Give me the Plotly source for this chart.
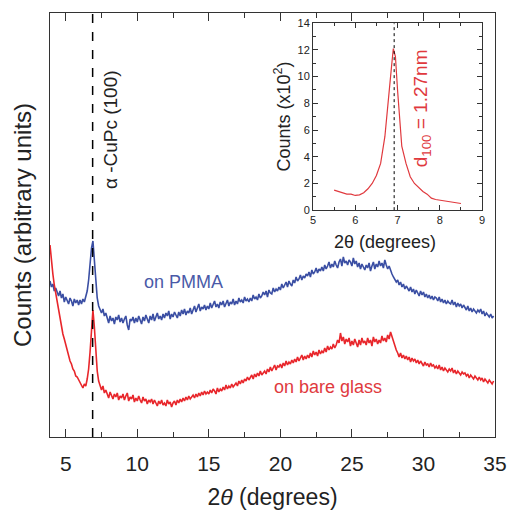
import plotly.graph_objects as go

# ---- data, 2theta grid from 3.9 in steps of 0.1 ----
x_start = 3.9
x_step = 0.1
blue_pmma = [
    156,150,153,146,149,144,141,146,139,143,
    135,140,137,133,139,136,131,138,134,137,
    132,137,133,138,135,140,146,157,173,189,
    196,176,150,139,131,127,124,128,121,124,
    119,114,121,116,119,113,120,117,122,115,
    119,114,118,121,112,107,118,116,120,114,
    119,115,121,117,113,120,116,122,118,114,
    121,117,123,116,120,124,118,121,117,123,
    119,124,121,126,118,123,120,125,122,119,
    125,121,127,123,128,122,126,124,129,123,
    127,131,125,129,133,126,130,128,132,127,
    131,128,134,129,132,136,130,133,129,135,
    132,136,130,134,137,131,135,133,138,132,
    136,133,139,135,137,134,140,136,138,135,
    139,136,142,138,140,137,143,139,141,145,
    142,146,140,147,144,143,149,145,148,146,
    150,147,153,149,152,155,150,156,153,151,
    157,154,160,156,158,162,157,161,159,163,
    161,165,160,167,163,165,169,164,168,166,
    170,166,172,168,171,175,169,173,170,176,
    172,169,175,178,171,180,174,176,172,177,
    175,171,179,173,176,170,174,168,173,170,
    167,172,169,174,166,171,175,168,173,170,
    176,171,174,169,177,172,168,171,166,163,
    160,158,155,157,152,155,150,153,148,151,
    149,146,150,145,148,143,147,144,141,146,
    142,145,140,143,139,142,138,141,137,140,
    139,136,140,135,138,134,137,133,136,134,
    133,137,132,135,130,134,131,133,129,132,
    130,127,131,126,129,125,128,126,124,127,
    125,128,123,126,121,124,122,120,123,119,
    121]
red_glass = [
    192,175,163,152,144,133,126,118,112,103,
    98,92,88,81,76,73,68,66,61,60,
    57,54,52,49,53,51,58,68,85,108,
    127,110,85,66,56,50,47,51,44,47,
    43,39,45,41,38,43,40,44,37,41,
    39,43,37,41,44,36,40,38,42,35,
    39,36,41,37,34,40,36,38,33,37,
    35,38,33,37,34,31,36,33,37,32,
    34,31,37,33,35,30,34,36,32,37,
    34,38,35,39,36,40,37,41,38,40,
    42,39,43,40,44,41,45,42,46,43,
    45,43,47,44,48,46,43,49,45,48,
    46,50,47,52,48,51,49,53,50,52,
    54,51,56,53,57,54,58,56,60,57,
    59,62,58,63,60,64,61,66,62,64,
    66,63,68,65,70,66,69,72,67,71,
    70,73,69,74,71,76,72,75,73,77,
    74,78,75,80,76,79,82,77,81,78,
    82,79,84,80,86,82,85,81,87,83,
    86,84,89,85,91,87,90,88,93,89,
    92,97,94,104,96,100,93,98,95,99,
    91,96,92,98,93,90,97,92,99,94,
    96,92,99,94,97,91,100,95,98,93,
    97,94,101,96,99,95,102,98,105,100,
    96,92,87,84,80,84,79,82,78,81,
    77,80,75,79,76,78,74,77,73,76,
    74,71,75,72,73,70,74,71,72,69,
    71,68,72,67,70,66,69,67,65,68,
    66,69,64,67,63,66,64,62,65,63,
    64,61,63,59,62,60,58,61,59,57,
    60,57,59,55,58,56,54,57,55,53,
    56]
two_theta = [round(x_start + i * x_step, 1) for i in range(len(blue_pmma))]

inset_2theta = [5.5,5.6,5.7,5.8,5.9,6.0,6.1,6.2,6.3,6.4,6.5,6.6,6.7,6.8,6.85,6.9,6.95,
                7.0,7.05,7.1,7.2,7.3,7.4,7.5,7.6,7.7,7.8,7.9,8.0,8.1,8.2,8.3,8.4,8.5]
inset_counts = [1.5,1.4,1.3,1.2,1.2,1.1,1.15,1.3,1.6,2.0,2.6,3.5,5.5,8.5,10.5,12.1,11.5,
                9.0,6.5,4.8,3.5,2.5,2.0,1.7,1.4,1.2,0.9,0.8,0.75,0.7,0.7,0.6,0.55,0.5]

peak_main = 6.88
peak_inset = 6.92
main_xticks = [5, 10, 15, 20, 25, 30, 35]
inset_xticks = [5, 6, 7, 8, 9]
inset_yticks = [0, 2, 4, 6, 8, 10, 12, 14]

BLUE = "#3a4ea3"
RED = "#e8262b"
FONT = "Liberation Sans, Arial, sans-serif"

fig = go.Figure()
fig.add_trace(go.Scatter(x=two_theta, y=blue_pmma, mode="lines",
                         line=dict(color=BLUE, width=1.6), xaxis="x", yaxis="y",
                         showlegend=False))
fig.add_trace(go.Scatter(x=two_theta, y=red_glass, mode="lines",
                         line=dict(color=RED, width=1.6), xaxis="x", yaxis="y",
                         showlegend=False))
fig.add_trace(go.Scatter(x=inset_2theta, y=inset_counts, mode="lines",
                         line=dict(color="#e0393e", width=1.2), xaxis="x2", yaxis="y2",
                         showlegend=False))

fig.add_shape(type="line", xref="x", yref="y", x0=peak_main, x1=peak_main, y0=0, y1=424,
              line=dict(color="black", width=1.5, dash="dash"), layer="above")
fig.add_shape(type="line", xref="x2", yref="y2", x0=peak_inset, x1=peak_inset, y0=0, y1=14,
              line=dict(color="black", width=1, dash="dot"), layer="above")
fig.add_shape(type="rect", xref="x2 domain", yref="y2 domain", x0=0, x1=1, y0=0, y1=1,
              fillcolor="white", line=dict(width=0), layer="below")

fig.update_layout(
    width=507, height=511,
    margin=dict(l=50, r=12, t=13, b=74, autoexpand=False),
    paper_bgcolor="white", plot_bgcolor="white",
    font=dict(family=FONT, color="#222"),
    xaxis=dict(range=[3.9, 35], tickvals=main_xticks, ticklen=8, tickwidth=1.3,
               tickfont=dict(size=21), ticklabelstandoff=8, automargin=False,
               minor=dict(ticks="inside", ticklen=5, dtick=2.5, tick0=0, tickcolor="#333"),
               title=dict(text="2<i>θ</i> (degrees)", font=dict(size=23), standoff=14),
               showline=True, linecolor="#333", linewidth=1.3, mirror="ticks",
               ticks="inside", tickcolor="#333", showgrid=False, zeroline=False),
    yaxis=dict(range=[0, 424], showticklabels=False, ticks="", showline=True,
               linecolor="#333", linewidth=1.3, mirror=True, showgrid=False, zeroline=False,
               automargin=False,
               title=dict(text="Counts (arbitrary units)", font=dict(size=24), standoff=10)),
    xaxis2=dict(range=[5, 9], tickvals=inset_xticks, ticklen=5, tickwidth=1,
                tickfont=dict(size=11), anchor="y2", automargin=False,
                minor=dict(ticks="inside", ticklen=3, dtick=0.5, tick0=5, tickcolor="#333"),
                domain=[0.591, 0.971], showline=True, linecolor="#333", linewidth=1,
                mirror="ticks", ticks="inside", tickcolor="#333", showgrid=False, zeroline=False),
    yaxis2=dict(range=[0, 14], tickvals=inset_yticks, ticklen=5, tickwidth=1,
                tickfont=dict(size=11), anchor="x2", automargin=False,
                minor=dict(ticks="inside", ticklen=3, dtick=1, tick0=0, tickcolor="#333"),
                domain=[0.535, 0.976], showline=True, linecolor="#333", linewidth=1,
                mirror="ticks", ticks="inside", tickcolor="#333", showgrid=False, zeroline=False),
)

fig.add_annotation(text="α -CuPc (100)", x=8.1, y=307, xref="x", yref="y", textangle=-90,
                   showarrow=False, font=dict(size=19, color="#222"))
fig.add_annotation(text="on PMMA", x=13.2, y=155, xref="x", yref="y",
                   showarrow=False, font=dict(size=18, color="#4a5aa8"))
fig.add_annotation(text="on bare glass", x=23.3, y=50, xref="x", yref="y",
                   showarrow=False, font=dict(size=18, color="#e03a3e"))
fig.add_annotation(text="d<sub>100</sub> = 1.27nm", x=7.57, y=7.6, xref="x2", yref="y2",
                   textangle=-90, showarrow=False, font=dict(size=19, color="#e0393e"))
fig.add_annotation(text="2θ (degrees)", x=0.426, y=-0.171, xref="x2 domain",
                   yref="y2 domain", xanchor="center", yanchor="middle", showarrow=False,
                   font=dict(size=18, color="#222"))
fig.add_annotation(text="Counts (x10<sup>2</sup>)", x=-0.178, y=0.5, xref="x2 domain",
                   yref="y2 domain", xanchor="center", yanchor="middle", textangle=-90,
                   showarrow=False, font=dict(size=18, color="#222"))

fig.write_html("out.html", config={"displayModeBar": False},
               post_script="document.body.style.margin='0';")
